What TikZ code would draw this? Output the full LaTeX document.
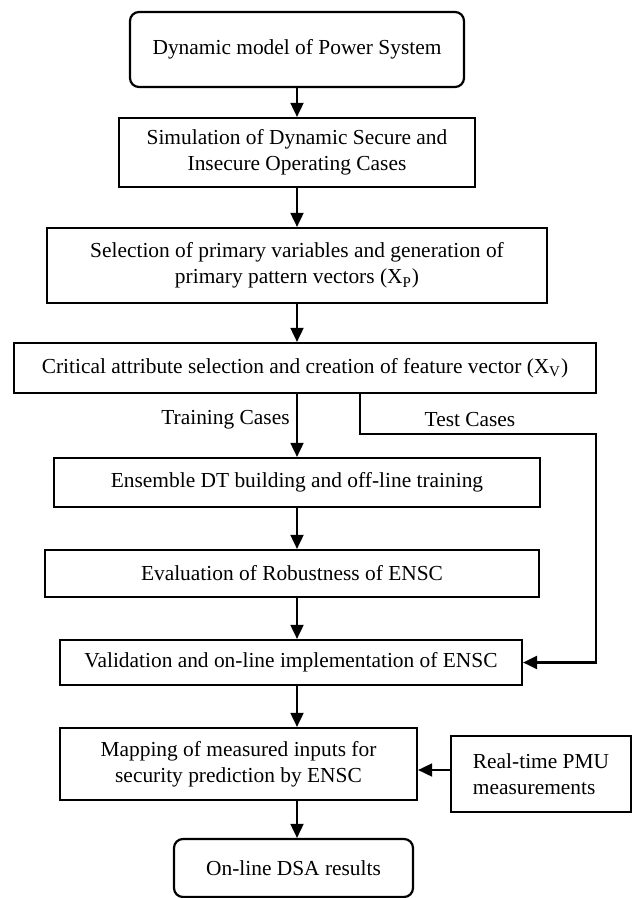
\documentclass[tikz,border=0pt]{standalone}
\usepackage{fontspec}
\setmainfont{Liberation Serif}
\usetikzlibrary{positioning,calc,arrows.meta}

\begin{document}
\begin{tikzpicture}[x=0.5pt,y=-0.5pt]
            \tikzset{
                stage/.style={
                    draw,
                    line width=1.1pt,
                    inner sep=0pt,
                    align=center,
                    font=\fontsize{10.7}{13.2}\selectfont
                }
            }
            \tikzset{
                endstage/.style={
                    stage,
                    rounded corners=4.5pt
                }
            }
            \tikzset{
                flow/.style={
                    line width=0.9pt,
                    -{Triangle[width=6.5pt,length=7pt]}
                }
            }
            \tikzset{
                testpath/.style={
                    line width=1.1pt,
                    -{Triangle[width=6.5pt,length=7pt]}
                }
            }
            \tikzset{
                lbl/.style={
                    inner sep=0pt,
                    font=\fontsize{10.7}{13.2}\selectfont
                }
            }

            \useasboundingbox (0,0) rectangle (633,898);

            \node[endstage, minimum width=167pt, minimum height=37.5pt] (model) at (297,49.5) {Dynamic model of Power System};
            \node[stage, minimum width=178pt, minimum height=34.5pt] (sim) at (297,152.5) {Simulation of Dynamic Secure and\\Insecure Operating Cases};
            \node[stage, minimum width=250pt, minimum height=37.5pt] (select) at (297,265.5) {Selection of primary variables and generation of\\primary pattern vectors (X\textsubscript{P})};
            \node[stage, minimum width=291pt, minimum height=25pt] (critical) at (305,368) {Critical attribute selection and creation of feature vector (X\textsubscript{V})};
            \node[stage, minimum width=243pt, minimum height=24.5pt] (ensemble) at (297,482.5) {Ensemble DT building and off-line training};
            \node[stage, minimum width=247pt, minimum height=23.5pt] (robust) at (292,573.5) {Evaluation of Robustness of ENSC};
            \node[stage, minimum width=231pt, minimum height=22.5pt] (valid) at (291,662.5) {Validation and on-line implementation of ENSC};
            \node[stage, minimum width=178.5pt, minimum height=36pt] (mapping) at (238.5,764) {Mapping of measured inputs for\\security prediction by ENSC};
            \node[stage, minimum width=90pt, minimum height=38pt, align=left] (pmu) at (541,774) {Real-time PMU\\measurements};
            \node[endstage, minimum width=119.5pt, minimum height=29pt] (dsa) at (293.5,868) {On-line DSA results};

            % branch labels
            \node[lbl, anchor=east] (trainlbl) at (290,420) {Training Cases};
            \node[lbl] (testlbl) at (470,420) {Test Cases};

            \coordinate (testbend) at (360,434);
            \coordinate (testright) at (596,434);

            \draw[flow] (model.south) -- (sim.north);
            \draw[flow] (sim.south) -- (select.north);
            \draw[flow] (select.south) -- (select.south |- critical.north);
            \draw[flow] (critical.south -| ensemble.north) -- (ensemble.north);
            \draw[flow] (ensemble.south) -- (ensemble.south |- robust.north);
            \draw[flow] (ensemble.south |- robust.south) -- (ensemble.south |- valid.north);
            \draw[flow] (ensemble.south |- valid.south) -- (ensemble.south |- mapping.north);
            \draw[flow] (ensemble.south |- mapping.south) -- (ensemble.south |- dsa.north);
            \draw[flow] (pmu.west |- 0,770) -- (mapping.east |- 0,770);

            \draw[testpath] (critical.south -| testbend) -- (testbend) -- (testright) |- (valid.east);
        \end{tikzpicture}
\end{document}
